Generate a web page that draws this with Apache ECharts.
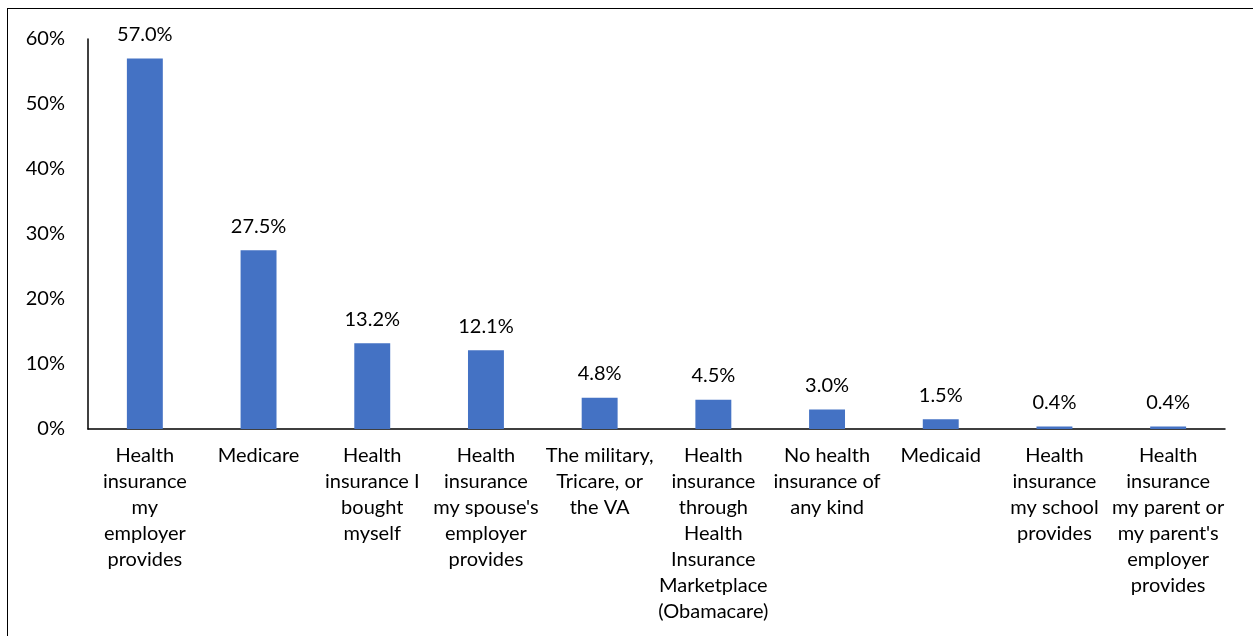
<!DOCTYPE html>
<html>
<head>
<meta charset="utf-8">
<script src="https://cdn.jsdelivr.net/npm/echarts@6/dist/echarts.min.js"></script>
<style>
  html, body { margin: 0; padding: 0; background: #fff; }
  #frame { position: absolute; left: 7px; top: 8px; width: 1260px; height: 640px; border: 1.5px solid #000; box-sizing: border-box; }
  #chart { position: absolute; left: 0; top: 0; width: 1253px; height: 636px; }
</style>
</head>
<body>
<div id="frame"></div>
<div id="chart"></div>
<script>
// Health insurance coverage sources, share of respondents (%)
const categories = [
  'Health\ninsurance\nmy\nemployer\nprovides',
  'Medicare',
  'Health\ninsurance I\nbought\nmyself',
  'Health\ninsurance\nmy spouse\'s\nemployer\nprovides',
  'The military,\nTricare, or\nthe VA',
  'Health\ninsurance\nthrough\nHealth\nInsurance\nMarketplace\n(Obamacare)',
  'No health\ninsurance of\nany kind',
  'Medicaid',
  'Health\ninsurance\nmy school\nprovides',
  'Health\ninsurance\nmy parent or\nmy parent\'s\nemployer\nprovides'
];
const shares = [57.0, 27.5, 13.2, 12.1, 4.8, 4.5, 3.0, 1.5, 0.4, 0.4];
const yTicks = { min: 0, max: 60, interval: 10 };

const FONT = 'Lato, "Liberation Sans", sans-serif';
const chart = echarts.init(document.getElementById('chart'), null, { renderer: 'canvas' });
chart.setOption({
  animation: false,
  backgroundColor: 'transparent',
  grid: { left: 88, right: 28, top: 39, bottom: 207, containLabel: false },
  xAxis: {
    type: 'category',
    data: categories,
    axisLine: { show: true, lineStyle: { color: '#000', width: 1.5 } },
    axisTick: { show: false },
    axisLabel: { interval: 0, color: '#000', fontFamily: FONT, fontSize: 20, lineHeight: 26, margin: 14 }
  },
  yAxis: {
    type: 'value',
    min: yTicks.min, max: yTicks.max, interval: yTicks.interval,
    axisLine: { show: true, lineStyle: { color: '#000', width: 1.5 } },
    axisTick: { show: false },
    splitLine: { show: false },
    axisLabel: { formatter: '{value}%', color: '#000', fontFamily: FONT, fontSize: 20, margin: 23 }
  },
  series: [{
    type: 'bar',
    data: shares,
    barWidth: '31.6%',
    itemStyle: { color: '#4472C4' },
    label: {
      show: true, position: 'top', distance: 14,
      formatter: p => p.value.toFixed(1) + '%',
      color: '#000', fontFamily: FONT, fontSize: 20
    }
  }]
});
</script>
</body>
</html>
